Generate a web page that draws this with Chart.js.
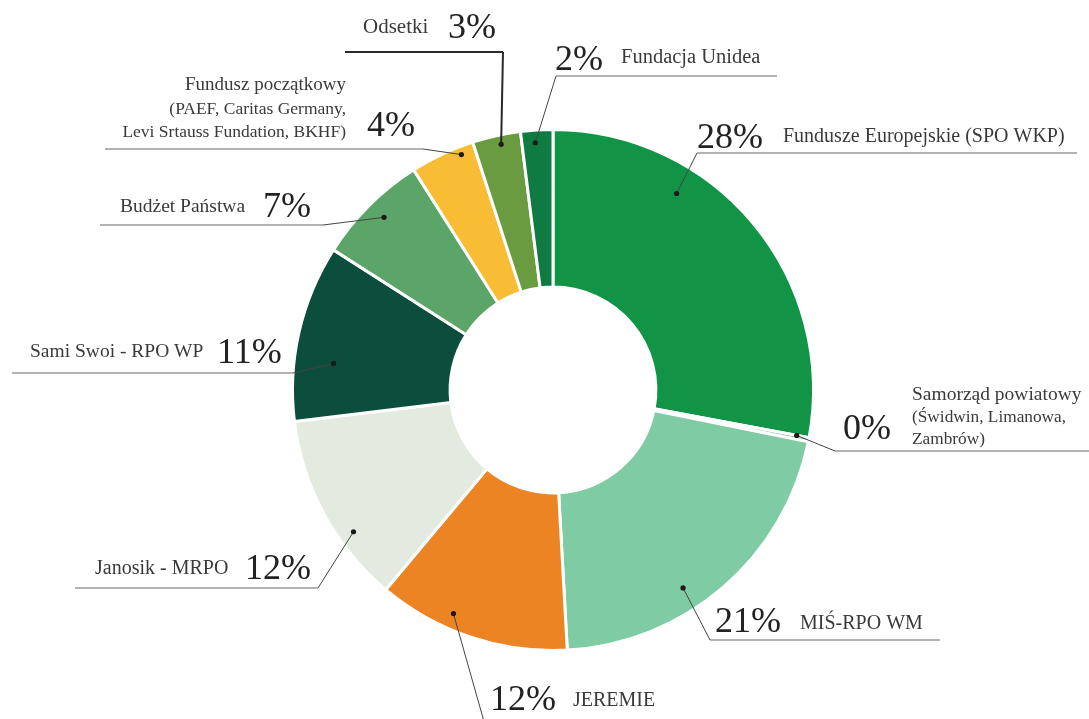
<!DOCTYPE html>
<html>
<head>
<meta charset="utf-8">
<script src="https://cdn.jsdelivr.net/npm/chart.js@4.4.1/dist/chart.umd.min.js"></script>
<style>
  html, body { margin: 0; padding: 0; background: #ffffff; }
  #wrap { position: relative; width: 1089px; height: 719px; }
</style>
</head>
<body>
<div id="wrap"><canvas id="c"></canvas></div>
<script>
// ---- data ----
const categories = [
  ['Fundusze Europejskie (SPO WKP)'],
  ['Samorząd powiatowy', '(Świdwin, Limanowa,', 'Zambrów)'],
  ['MIŚ-RPO WM'],
  ['JEREMIE'],
  ['Janosik - MRPO'],
  ['Sami Swoi - RPO WP'],
  ['Budżet Państwa'],
  ['Fundusz początkowy', '(PAEF, Caritas Germany,', 'Levi Srtauss Fundation, BKHF)'],
  ['Odsetki'],
  ['Fundacja Unidea']
];
const shares = [28, 0.25, 21, 12, 12, 11, 7, 4, 3, 2];
const shareLabels = ['28%', '0%', '21%', '12%', '12%', '11%', '7%', '4%', '3%', '2%'];
const sliceColors = ['#129447', '#4fae73', '#7fcba3', '#ec8424', '#e3ebe0', '#0b4e3c', '#5ca569', '#f8bd35', '#6a9b41', '#0f7a41'];

// ---- label layout (annotation placement, not data) ----
// t: position along slice angle (0..1), f: position across ring (0..1)
const labelLayout = [
  { t: 0.32, f: 0.82, elbow: [697, 153], line: [697, 1077], pct: [697, 148], text: [783, 142], align: 'left', sizes: [20] },
  { t: 0.0,  f: 0.92, elbow: [835, 451], line: [835, 1089], pct: [843, 439], text: [912, 400], align: 'left', gap: 22, sizes: [19.5, 17.3, 17.3] },
  { t: 0.6,  f: 0.85, elbow: [710, 640], line: [710, 940],  pct: [715, 632], text: [800, 629], align: 'left', sizes: [20] },
  { t: 0.63, f: 0.90, elbow: [485, 725], line: null,        pct: [490, 710], text: [573, 706], align: 'left', sizes: [20] },
  { t: 0.34, f: 0.90, elbow: [318, 588], line: [75, 318],   pct: [245, 579], text: [95, 574],  align: 'left', sizes: [20] },
  { t: 0.35, f: 0.75, elbow: [293, 373], line: [12, 293],   pct: [217, 363], text: [30, 357],  align: 'left', sizes: [19.5] },
  { t: 0.52, f: 0.88, elbow: [323, 225], line: [100, 323],  pct: [263, 217], text: [120, 212], align: 'left', sizes: [19.5] },
  { t: 0.77, f: 0.95, elbow: [423, 149], line: [105, 423],  pct: [367, 136], text: [346, 90],  align: 'right', gap: 23.5, sizes: [19, 17.5, 17.5] },
  { t: 0.56, f: 0.94, elbow: [503, 52],  line: [345, 503],  pct: [448, 38],  text: [363, 33],  align: 'left', dark: true, sizes: [21] },
  { t: 0.43, f: 0.92, elbow: [556, 76],  line: [556, 777],  pct: [555, 70],  text: [621, 63],  align: 'left', sizes: [20.5] }
];

const SERIF = '"Liberation Serif", "DejaVu Serif", serif';

const leaderPlugin = {
  id: 'leaders',
  afterDatasetsDraw(chart) {
    const ctx = chart.ctx;
    const meta = chart.getDatasetMeta(0);
    meta.data.forEach((arc, i) => {
      const L = labelLayout[i];
      if (!L) return;
      const p = arc.getProps(['x', 'y', 'startAngle', 'endAngle', 'innerRadius', 'outerRadius'], true);
      const a = p.startAngle + L.t * (p.endAngle - p.startAngle);
      const r = p.innerRadius + L.f * (p.outerRadius - p.innerRadius);
      const dx = p.x + Math.cos(a) * r;
      const dy = p.y + Math.sin(a) * r;
      ctx.save();
      // horizontal rule
      if (L.line) {
        ctx.strokeStyle = L.dark ? '#2a2a2a' : '#9a9a9a';
        ctx.lineWidth = L.dark ? 2 : 1.5;
        ctx.beginPath();
        ctx.moveTo(L.line[0], L.elbow[1]);
        ctx.lineTo(L.line[1], L.elbow[1]);
        ctx.stroke();
      }
      // leader
      ctx.strokeStyle = L.dark ? '#2a2a2a' : '#444444';
      ctx.lineWidth = L.dark ? 2 : 1;
      ctx.beginPath();
      ctx.moveTo(dx, dy);
      ctx.lineTo(L.elbow[0], L.elbow[1]);
      ctx.stroke();
      // dot
      ctx.fillStyle = '#1a1a1a';
      ctx.beginPath();
      ctx.arc(dx, dy, 2.6, 0, Math.PI * 2);
      ctx.fill();
      // percentage
      ctx.textBaseline = 'alphabetic';
      ctx.textAlign = 'left';
      ctx.fillStyle = '#222222';
      ctx.font = '36px ' + SERIF;
      ctx.fillText(shareLabels[i], L.pct[0], L.pct[1]);
      // category text
      ctx.fillStyle = '#3a3a3a';
      ctx.textAlign = L.align;
      const lines = categories[i];
      lines.forEach((ln, k) => {
        const sz = L.sizes[Math.min(k, L.sizes.length - 1)];
        ctx.font = sz + 'px ' + SERIF;
        ctx.fillText(ln, L.text[0], L.text[1] + k * (L.gap || 22));
      });
      ctx.restore();
    });
  }
};

new Chart(document.getElementById('c'), {
  type: 'doughnut',
  data: {
    labels: categories.map(c => c.join(' ')),
    datasets: [{
      data: shares,
      backgroundColor: sliceColors,
      borderColor: '#ffffff',
      borderWidth: 3,
      borderJoinStyle: 'miter'
    }]
  },
  options: {
    responsive: true,
    maintainAspectRatio: false,
    animation: false,
    cutout: '39.5%',
    rotation: 0,
    layout: { padding: { top: 128, bottom: 67, left: 291, right: 274 } },
    plugins: {
      legend: { display: false },
      tooltip: { enabled: false },
      title: { display: false }
    }
  },
  plugins: [leaderPlugin]
});
</script>
</body>
</html>
